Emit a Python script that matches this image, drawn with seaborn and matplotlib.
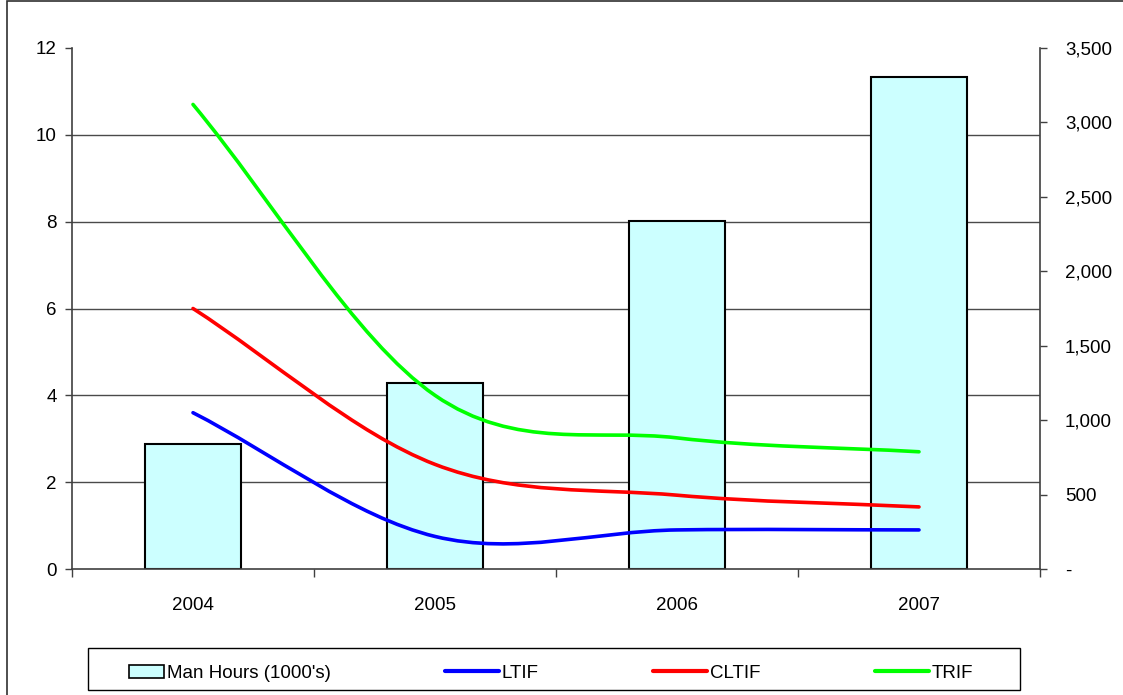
import numpy as np
import pandas as pd
import matplotlib
matplotlib.use("Agg")
import matplotlib.pyplot as plt
from matplotlib.path import Path
from matplotlib.patches import PathPatch, Patch, Rectangle
from matplotlib.lines import Line2D
from matplotlib.legend_handler import HandlerPatch
from matplotlib.ticker import FuncFormatter
import seaborn as sns

# ---- data ----
years = ["2004", "2005", "2006", "2007"]
man_hours = [837, 1250, 2336, 3302]
ltif = [3.6, 0.75, 0.90, 0.90]
cltif = [6.0, 2.41, 1.70, 1.43]
trif = [10.7, 4.0, 3.02, 2.70]
left_ticks = [0, 2, 4, 6, 8, 10, 12]
right_ticks = [0, 500, 1000, 1500, 2000, 2500, 3000, 3500]
series_names = ["LTIF", "CLTIF", "TRIF"]
series_colors = ["#0000FF", "#FF0000", "#00FF00"]
bar_label = "Man Hours (1000's)"

sns.set_theme(style="white")
plt.rcParams["font.family"] = ["Liberation Sans", "DejaVu Sans"]
plt.rcParams["text.color"] = "black"
plt.rcParams["xtick.labelcolor"] = "black"
plt.rcParams["ytick.labelcolor"] = "black"

FS = 13.5
W, H = 1123, 695
fig = plt.figure(figsize=(W / 100, H / 100), dpi=100)
L, R, T, B = 72, 1040, 48, 569
ax_bars = fig.add_axes([L / W, 1 - B / H, (R - L) / W, (B - T) / H])

df = pd.DataFrame({"year": years, "hours": man_hours})
sns.barplot(data=df, x="year", y="hours", ax=ax_bars, color="#CCFFFF",
            saturation=1, edgecolor="black", linewidth=1.5, width=0.4, zorder=2)
ax_bars.set_xlim(-0.5, len(years) - 0.5)
ax_bars.set_ylim(right_ticks[0], right_ticks[-1])
ax_bars.set_xlabel("")
ax_bars.set_ylabel("")

ax_lines = ax_bars.twinx()
ax_lines.set_ylim(left_ticks[0], left_ticks[-1])
ax_lines.set_yticks(left_ticks)
ax_lines.yaxis.tick_left()
ax_lines.tick_params(axis="y", which="major", direction="out", length=5, width=1,
                     color="#404040", labelsize=FS, pad=6, labelcolor="black")

# right (bar) axis
ax_bars.yaxis.tick_right()
ax_bars.set_yticks(right_ticks)
ax_bars.yaxis.set_major_formatter(
    FuncFormatter(lambda v, p: "-" if v == 0 else f"{int(v):,}"))
ax_bars.tick_params(axis="y", which="major", direction="out", length=5, width=1,
                    color="#404040", labelsize=FS, pad=13, labelcolor="black")
# gridlines of the left scale, drawn behind bars
ratio = right_ticks[-1] / left_ticks[-1]
ax_bars.set_yticks([v * ratio for v in left_ticks[1:]], minor=True)
ax_bars.tick_params(axis="y", which="minor", length=0)
ax_bars.grid(False)
ax_bars.grid(which="minor", axis="y", color="#4a4a4a", linewidth=1.0, zorder=0)
ax_bars.set_axisbelow(True)

# x axis: boundary tick marks, labels at centres
n = len(years)
ax_bars.set_xticks([i - 0.5 for i in range(n + 1)])
ax_bars.set_xticklabels([""] * (n + 1))
ax_bars.set_xticks(list(range(n)), minor=True)
ax_bars.set_xticklabels(years, minor=True)
ax_bars.tick_params(axis="x", which="major", direction="out", length=6, width=1,
                    color="#404040", bottom=True)
ax_bars.tick_params(axis="x", which="minor", length=0, labelsize=FS, pad=20,
                    bottom=True, labelcolor="black")

for s in ["top", "left"]:
    ax_bars.spines[s].set_visible(False)
for s in ["bottom", "right"]:
    ax_bars.spines[s].set_color("#404040")
    ax_bars.spines[s].set_linewidth(1.2)
for s in ["top", "right", "bottom"]:
    ax_lines.spines[s].set_visible(False)
ax_lines.spines["left"].set_color("#404040")
ax_lines.spines["left"].set_linewidth(1.2)


def smooth_path(xs, ys):
    P = np.column_stack([xs, ys]).astype(float)
    m = len(P)
    verts = [tuple(P[0])]
    codes = [Path.MOVETO]
    for i in range(m - 1):
        p0, p1 = P[i], P[i + 1]
        c1 = p0 + (p1 - p0) / 3 if i == 0 else p0 + (P[i + 1] - P[i - 1]) / 6
        c2 = p1 - (p1 - p0) / 3 if i == m - 2 else p1 - (P[i + 2] - P[i]) / 6
        verts += [tuple(c1), tuple(c2), tuple(p1)]
        codes += [Path.CURVE4] * 3
    return Path(verts, codes)


xs = np.arange(n)
for vals, col in zip([ltif, cltif, trif], series_colors):
    patch = PathPatch(smooth_path(xs, vals), facecolor="none", edgecolor=col,
                      linewidth=2.6, capstyle="round", zorder=3)
    ax_lines.add_patch(patch)


def short_box(legend, orig_handle, xdescent, ydescent, width, height, fontsize):
    return Rectangle((-xdescent + width * 0.36, -ydescent), width * 0.64, height)


# legend (frame drawn separately for wider side padding)
handles = [Patch(facecolor="#CCFFFF", edgecolor="black", linewidth=1.2)]
handles += [Line2D([], [], color=c, linewidth=3) for c in series_colors]
labels = [bar_label] + series_names
leg = fig.legend(handles, labels, loc="lower left", ncol=4, mode="expand",
                 bbox_to_anchor=(100 / W, 1 - 691 / H, (983 - 100) / W, 42 / H),
                 frameon=False, fontsize=FS, handlelength=2.9,
                 handletextpad=0.15, borderaxespad=0, borderpad=0.5,
                 handler_map={Patch: HandlerPatch(patch_func=short_box)})
fig.patches.append(Rectangle((88 / W, 1 - 690 / H), (1020 - 88) / W, 42 / H,
                             transform=fig.transFigure, fill=False,
                             edgecolor="black", linewidth=1.0))

# outer chart border
fig.patches.append(Rectangle((7 / W, -0.05), 1.2, 1.05 - 1 / H, transform=fig.transFigure,
                             fill=False, edgecolor="#303030", linewidth=1.2))

fig.savefig("out.png", dpi=100)
